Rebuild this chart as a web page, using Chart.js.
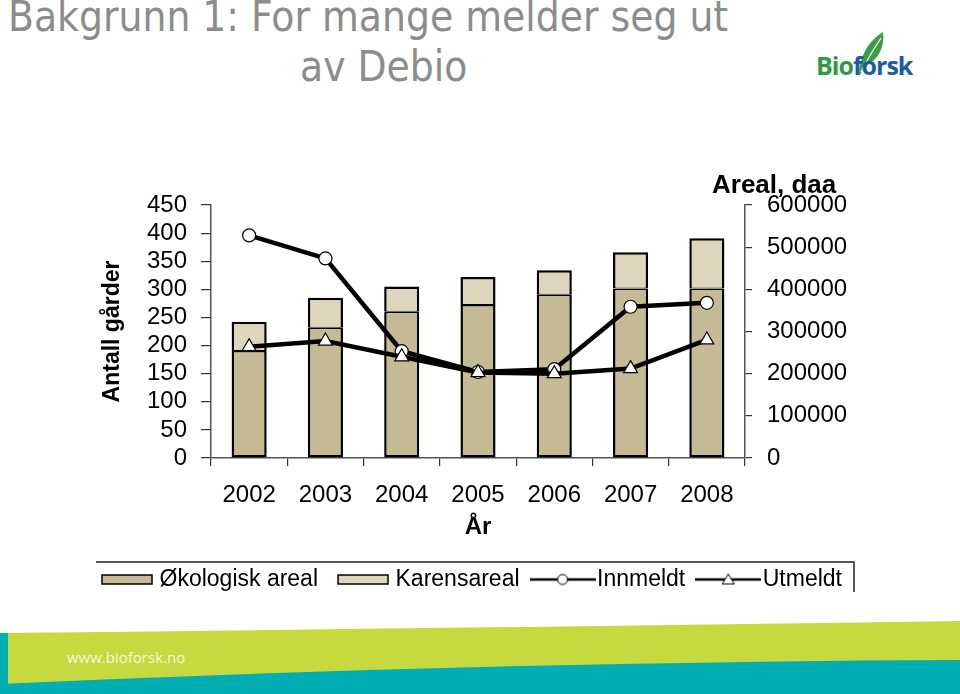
<!DOCTYPE html>
<html>
<head>
<meta charset="utf-8">
<script src="https://cdn.jsdelivr.net/npm/chart.js@4.4.1/dist/chart.umd.min.js"></script>
<style>
  html, body { margin: 0; padding: 0; background: #fff; width: 960px; height: 694px; overflow: hidden; }
  .title { position: absolute; font-family: "DejaVu Sans Condensed", "DejaVu Sans"; font-size: 42px; color: #8c8c8c; white-space: nowrap; line-height: 42px; }
  #t1 { left: 8px; top: -4px; }
  #t2 { left: 300px; top: 46px; }
  #chartBox { position: absolute; left: 0; top: 0; width: 960px; height: 602px; }
  #logo { position: absolute; left: 815px; top: 28px; width: 100px; height: 56px; }
  #logo .txt { position: absolute; left: 1px; top: 20px; font-family: "Open Sans"; font-weight: bold; font-size: 25px; letter-spacing: -1px; }
  #footer { position: absolute; left: 0; top: 600px; }
  #url { position: absolute; left: 67px; top: 647px; font-family: "Open Sans"; font-size: 15px; color: #f4f8de; }
</style>
</head>
<body>
<div class="title" id="t1">Bakgrunn 1: For mange melder seg ut</div>
<div class="title" id="t2">av Debio</div>

<div id="logo">
  <svg width="100" height="56" style="position:absolute;left:0;top:0">
    <path d="M44,48 C44,30 52,14 68,4 C70,18 64,32 50,38 C48,42 46,45 44,48 Z" fill="#3a9e48"/>
    <path d="M46,44 C52,32 58,22 66,10" stroke="#fff" stroke-width="1.2" fill="none"/>
  </svg>
  <div class="txt"><span style="color:#2f9a45">Bio</span><span style="color:#1d5aa3">forsk</span></div>
</div>

<svg id="footer" width="960" height="94">
  <path d="M0,33 Q480,28 960,21 L960,94 L0,94 Z" fill="#c6d93f"/>
  <path d="M0,84 Q480,62 960,60 L960,94 L0,94 Z" fill="#00adb0"/>
  <rect x="0" y="33" width="8" height="52" fill="#00adb0"/>
</svg>
<div id="url">www.bioforsk.no</div>

<div id="chartBox"><canvas id="chart"></canvas></div>

<script>
// values
const years = ['2002', '2003', '2004', '2005', '2006', '2007', '2008'];
const okologiskAreal = [254000, 309000, 347000, 363000, 387000, 402000, 402000];
const karensAreal = [69000, 71000, 60000, 66000, 58000, 86000, 119000];
const innmeldt = [396, 355, 190, 153, 158, 269, 276];
const utmeldt = [198, 208, 180, 152, 150, 159, 210];

const FONT = 'Liberation Sans';
const okoColor = '#c4bb95';
const karensColor = '#ddd6bd';

// legend icons
function barIcon(color) {
    const c = document.createElement('canvas');
    c.width = 56; c.height = 11;
    const g = c.getContext('2d');
    g.fillStyle = color;
    g.fillRect(5, 1, 50, 9);
    g.strokeStyle = '#000';
    g.lineWidth = 1.5;
    g.strokeRect(5, 1, 50, 9);
    return c;
}
function lineIcon(marker) {
    const c = document.createElement('canvas');
    c.width = 66; c.height = 14;
    const g = c.getContext('2d');
    g.strokeStyle = '#000';
    g.lineWidth = 2.5;
    g.beginPath(); g.moveTo(0, 7); g.lineTo(66, 7); g.stroke();
    g.fillStyle = '#fff';
    g.lineWidth = 1;
    g.beginPath();
    if (marker === 'circle') {
        g.arc(33, 7, 5, 0, Math.PI * 2);
    } else {
        g.moveTo(33, 1.5); g.lineTo(39, 11.5); g.lineTo(27, 11.5); g.closePath();
    }
    g.fill(); g.stroke();
    return c;
}
const legendIcons = [barIcon(okoColor), barIcon(karensColor), lineIcon('circle'), lineIcon('triangle')];

const extras = {
    id: 'extras',
    afterDraw(chart) {
        const ctx = chart.ctx;
        const area = chart.chartArea;
        ctx.save();
        ctx.fillStyle = '#000';
        ctx.font = 'bold 26px "' + FONT + '"';
        ctx.textAlign = 'left';
        ctx.textBaseline = 'middle';
        ctx.fillText('Areal, daa', area.right - 33, area.top - 19);
        // legend frame
        const lg = chart.legend;
        ctx.strokeStyle = '#222';
        ctx.lineWidth = 1.5;
        ctx.beginPath();
        ctx.moveTo(96, lg.top + 14);
        ctx.lineTo(854, lg.top + 14);
        ctx.lineTo(854, lg.top + 44);
        ctx.stroke();
        ctx.restore();
    }
};

const barBase = {
    type: 'bar',
    yAxisID: 'y1',
    borderColor: '#000',
    borderSkipped: false,
    barPercentage: 0.46,
    categoryPercentage: 1,
    order: 2
};

new Chart(document.getElementById('chart').getContext('2d'), {
    data: {
        labels: years,
        datasets: [Object.assign({}, barBase, {
            label: 'Økologisk areal',
            data: okologiskAreal,
            backgroundColor: okoColor,
            borderWidth: { left: 2.5, right: 2.5, bottom: 2.5, top: 1.5 }
        }), Object.assign({}, barBase, {
            label: 'Karensareal',
            data: karensAreal,
            backgroundColor: karensColor,
            borderWidth: { left: 2.5, right: 2.5, bottom: 1, top: 2.5 }
        }), {
            type: 'line',
            label: 'Innmeldt',
            data: innmeldt,
            yAxisID: 'y',
            borderColor: '#000',
            borderWidth: 4.5,
            tension: 0,
            pointStyle: 'circle',
            pointRadius: 6.5,
            pointBackgroundColor: '#fff',
            pointBorderColor: '#000',
            pointBorderWidth: 1.2,
            order: 1
        }, {
            type: 'line',
            label: 'Utmeldt',
            data: utmeldt,
            yAxisID: 'y',
            borderColor: '#000',
            borderWidth: 4.5,
            tension: 0,
            pointStyle: 'triangle',
            pointRadius: 8,
            pointBackgroundColor: '#fff',
            pointBorderColor: '#000',
            pointBorderWidth: 1.2,
            order: 0
        }]
    },
    options: {
        responsive: true,
        maintainAspectRatio: false,
        animation: false,
        layout: { padding: { left: 80, right: 96, top: 205, bottom: 1 } },
        scales: {
            x: {
                stacked: true,
                grid: { offset: true, drawOnChartArea: false, tickLength: 8, color: '#333', lineWidth: 1.2 },
                border: { color: '#555', width: 1.5 },
                ticks: { color: '#000', padding: 15, font: { family: FONT, size: 24 } },
                title: { display: true, text: 'År', color: '#000', font: { family: FONT, size: 24, weight: 'bold' }, padding: { top: 0, bottom: 6 } },
                afterFit(scale) { scale.height = 90; }
            },
            y: {
                position: 'left',
                min: 0,
                max: 450,
                ticks: { stepSize: 50, autoSkip: false, color: '#000', padding: 14, font: { family: FONT, size: 24 } },
                grid: { drawOnChartArea: false, tickLength: 10, color: '#333', lineWidth: 1.2 },
                border: { color: '#555', width: 1.5 },
                title: { display: true, text: 'Antall gårder', color: '#000', font: { family: FONT, size: 23, weight: 'bold' }, padding: { top: 19, bottom: 0 } },
                afterFit(scale) { scale.width = 131; }
            },
            y1: {
                position: 'right',
                stacked: true,
                min: 0,
                max: 600000,
                ticks: { stepSize: 100000, autoSkip: false, color: '#000', padding: 15, font: { family: FONT, size: 24 }, callback: v => String(v) },
                grid: { drawOnChartArea: false, tickLength: 7, color: '#333', lineWidth: 1.2 },
                border: { color: '#555', width: 1.5 },
                afterFit(scale) { scale.width = 119; }
            }
        },
        plugins: {
            tooltip: { enabled: false },
            legend: {
                position: 'bottom',
                labels: {
                    usePointStyle: true,
                    pointStyleWidth: 46,
                    boxHeight: 14,
                    padding: 20,
                    color: '#000',
                    font: { family: FONT, size: 23 },
                    sort: (a, b) => a.datasetIndex - b.datasetIndex,
                    generateLabels(chart) {
                        const items = Chart.defaults.plugins.legend.labels.generateLabels(chart);
                        items.forEach(it => { it.pointStyle = legendIcons[it.datasetIndex]; });
                        return items;
                    }
                }
            }
        }
    },
    plugins: [extras]
});
</script>
</body>
</html>
